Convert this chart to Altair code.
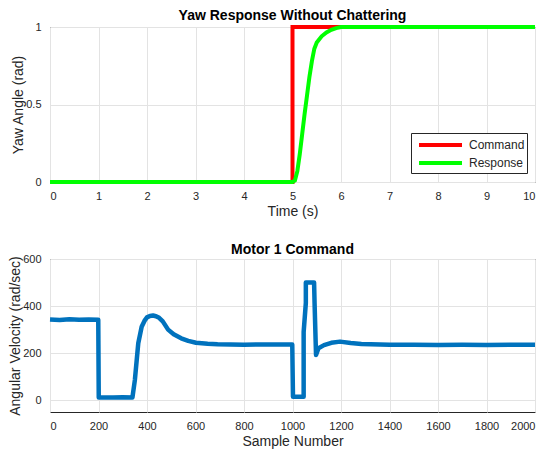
import altair as alt
import pandas as pd

# Top panel data
cmd_t = [0, 5, 5, 10]
cmd_v = [0, 0, 1, 1]
resp_t = [0, 5.0, 5.05, 5.1, 5.15, 5.2, 5.25, 5.3, 5.35, 5.4, 5.45, 5.5, 5.6, 5.7, 5.8, 5.9, 6.0, 10]
resp_v = [0, 0.0, 0.01, 0.07, 0.18, 0.31, 0.44, 0.56, 0.68, 0.78, 0.86, 0.9, 0.94, 0.965, 0.982, 0.993, 1.0, 1.0]

# Bottom panel data
samp = [0, 40, 80, 120, 160, 199, 201, 260, 300, 340, 350, 364, 378, 390, 400, 412, 425, 437, 450, 465,
        487, 510, 541, 570, 602, 650, 691,
        800, 900, 999, 1002, 1046, 1046, 1055, 1055, 1089, 1091, 1097, 1107, 1130, 1160, 1196, 1240, 1284,
        1400, 1500, 1600, 1700, 1800, 1900, 2000]
vel = [343, 341, 344, 342, 343, 342, 12, 12, 13, 12, 86, 242, 312, 338, 352, 358, 360, 357, 350, 335,
       300, 280, 263, 252, 244, 240, 238,
       236, 237, 237, 15, 15, 290, 413, 500, 500, 413, 192, 221, 234, 244, 249, 243, 239,
       236, 236, 235, 236, 235, 236, 236]

top_df = pd.DataFrame(
    {"t": cmd_t + resp_t,
     "v": cmd_v + resp_v,
     "series": ["Command"] * len(cmd_t) + ["Response"] * len(resp_t),
     "idx": list(range(len(cmd_t))) + list(range(len(resp_t)))}
)
bot_df = pd.DataFrame({"n": samp, "w": vel, "idx": list(range(len(samp)))})

W = 485
FONT = "Liberation Sans"
lab = dict(labelFont=FONT, labelFontSize=11, labelColor="#262626",
           titleFont=FONT, titleFontSize=14, titleFontWeight="normal", titleColor="#262626",
           grid=True, gridColor="#e3e3e3", domain=False, ticks=False)

xax = dict(labelPadding=8, titlePadding=3, **lab)
yax = dict(labelPadding=9, titlePadding=0, **lab)

top = alt.Chart(top_df, title=alt.TitleParams("Yaw Response Without Chattering", fontSize=14,
                                               font=FONT, fontWeight="bold", offset=-4,
                                               color="#000000")).mark_line(
    strokeWidth=4, strokeCap="butt", strokeJoin="miter").encode(
    x=alt.X("t:Q", scale=alt.Scale(domain=[0, 10], nice=False),
            axis=alt.Axis(title="Time (s)", values=list(range(11)), format="d", **xax)),
    y=alt.Y("v:Q", scale=alt.Scale(domain=[0, 1], nice=False),
            axis=alt.Axis(title="Yaw Angle (rad)", values=[0, 0.5, 1], format="~g", **yax)),
    color=alt.Color("series:N", scale=alt.Scale(domain=["Command", "Response"], range=["#ff0000", "#00ff00"]),
                    legend=alt.Legend(title=None, orient="none", legendX=361, legendY=106,
                                      symbolType="M-0.5,0L4.875,0", symbolStrokeWidth=4, symbolSize=256,
                                      labelFont=FONT, labelFontSize=12, labelColor="#262626",
                                      strokeColor="#262626", fillColor="white", padding=2, rowPadding=0,
                                      labelOffset=36)),
    order="idx:Q",
).properties(width=W, height=155)

bottom = alt.Chart(bot_df, title=alt.TitleParams("Motor 1 Command", fontSize=14,
                                                  font=FONT, fontWeight="bold", offset=-4,
                                                  color="#000000")).mark_line(
    strokeWidth=4.5, color="#0072BD", strokeJoin="round").encode(
    x=alt.X("n:Q", scale=alt.Scale(domain=[0, 2000], nice=False),
            axis=alt.Axis(title="Sample Number", values=list(range(0, 2001, 200)), format="d", **xax)),
    y=alt.Y("w:Q", scale=alt.Scale(domain=[-50, 600], nice=False),
            axis=alt.Axis(title="Angular Velocity (rad/sec)", values=[0, 200, 400, 600], format="d", **yax)),
    order="idx:Q",
).properties(width=W, height=153)

chart = alt.vconcat(top, bottom, spacing=23).configure_view(stroke="#262626", strokeWidth=1).properties(
    padding={"left": 0, "top": 0, "right": 0, "bottom": 0}, background="white")

chart.save("out.html", embed_options={"renderer": "svg", "actions": False})
